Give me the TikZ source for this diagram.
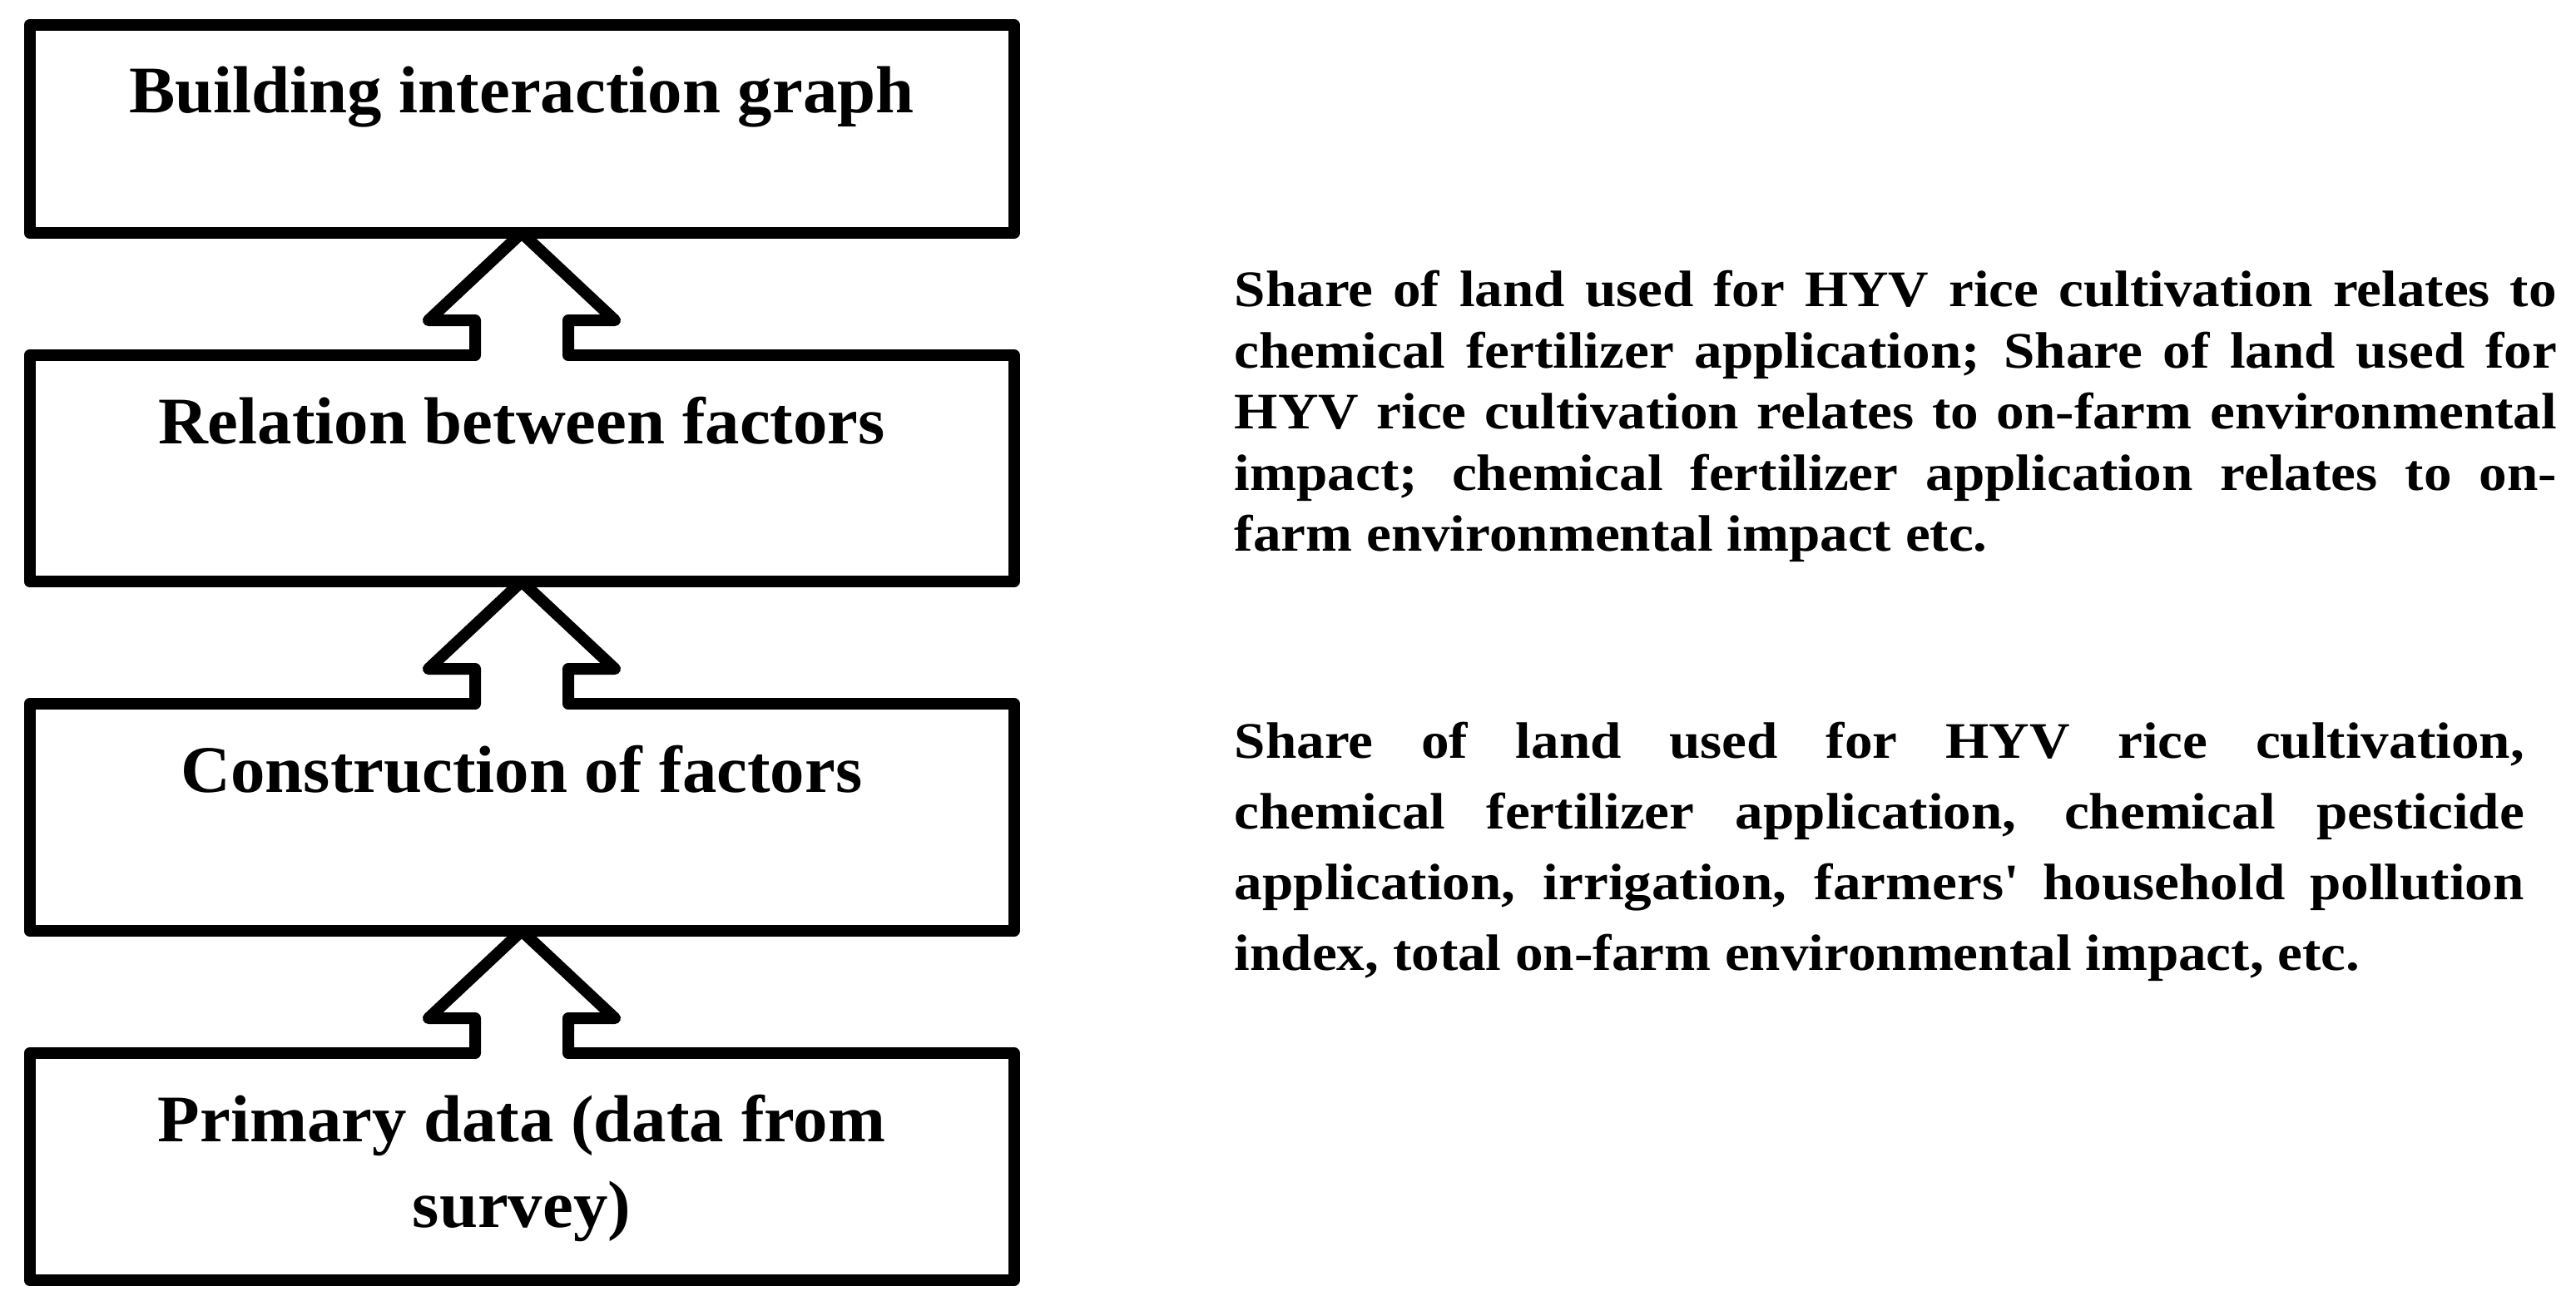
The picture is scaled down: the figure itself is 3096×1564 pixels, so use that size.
\documentclass[tikz,border=0pt]{standalone}
\usepackage{fontspec}
\setmainfont{Liberation Serif}
\newfontfamily\boxfont[FakeStretch=1.035]{Liberation Serif}
\newfontfamily\parfont[FakeStretch=1.09]{Liberation Serif}
\usetikzlibrary{calc}
\tolerance=10000
\pretolerance=-1
\hyphenpenalty=10000
\exhyphenpenalty=10000
\newcommand\flowarrow[2]{%
  \fill[white] ($(#2.north)+(-56,10)$) rectangle ($(#1.south)+(56,105)$);
  \draw[arr] ($(#2.north)+(-56,0)$) |- ($(#1.south)+(-112,105)$) -- (#1.south)
     -- ($(#1.south)+(112,105)$) -| ($(#2.north)+(56,0)$);
}
\begin{document}
\begin{tikzpicture}[x=0.25pt, y=-0.25pt, line join=round, line cap=round,
  box/.style={draw, line width=3.5pt, minimum width=295.75pt, inner sep=0pt, outer sep=0pt},
  arr/.style={draw, line width=3.5pt},
  lbl/.style={font=\boxfont\fontsize{20pt}{25.75pt}\bfseries\selectfont, inner sep=0pt},
  para/.style={font=\parfont\fontsize{15.4pt}{#1}\bfseries\selectfont, inner sep=0pt,
               align=justify, anchor=north west}]
\path[use as bounding box, fill=white] (0,0) rectangle (3096,1564);

\node[box, minimum height=62.5pt]  (b1) at (627,155) {};
\node[box, minimum height=68pt]    (b2) at (627,563) {};
\node[box, minimum height=68.25pt] (b3) at (627,982.5) {};
\node[box, minimum height=68.25pt] (b4) at (627,1402.5) {};

\node[lbl, anchor=base] (t1) at ($(b1.north)+(0,105)$) {Building interaction graph};
\node[lbl, anchor=base] (t2) at ($(b2.north)+(0,106)$) {Relation between factors};
\node[lbl, anchor=base] (t3) at ($(b3.north)+(0,106)$) {Construction of factors};
\node[lbl, anchor=north, align=center] (t4) at ($(b4.north)+(0,34)$)
  {\rule{0pt}{18pt}Primary data (data from\\survey)};

\flowarrow{b1}{b2}
\flowarrow{b2}{b3}
\flowarrow{b3}{b4}

\node[para=18.375pt, text width=397.25pt] (p1) at (1483,320)
  {\rule{0pt}{12pt}Share of land used for HYV rice cultivation relates to\linebreak
   chemical fertilizer application; Share of land used for\linebreak
   HYV rice cultivation relates to on-farm environmental\linebreak
   impact; chemical fertilizer application relates to on-\linebreak
   farm environmental impact etc.};

\node[para=21.25pt, text width=387.5pt] (p2) at (1483,863)
  {\rule{0pt}{12pt}Share of land used for HYV rice cultivation,\linebreak
   chemical fertilizer application, chemical pesticide\linebreak
   application, irrigation, farmers\textquotesingle{} household pollution\linebreak
   index, total on-farm environmental impact, etc.};
\end{tikzpicture}
\end{document}
